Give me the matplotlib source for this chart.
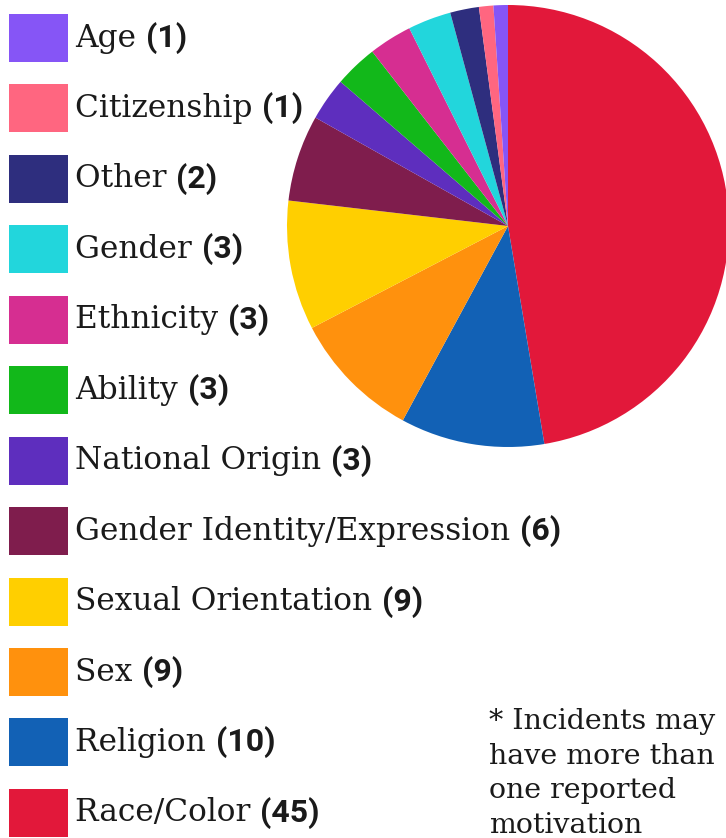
import matplotlib
matplotlib.use('Agg')
import matplotlib.pyplot as plt
from matplotlib.patches import Rectangle

# legend order (top to bottom)
labels = ['Age', 'Citizenship', 'Other', 'Gender', 'Ethnicity', 'Ability',
          'National Origin', 'Gender Identity/Expression', 'Sexual Orientation',
          'Sex', 'Religion', 'Race/Color']
counts = [1, 1, 2, 3, 3, 3, 3, 6, 9, 9, 10, 45]
colors = ['#8655f6', '#ff6680', '#2e2e7e', '#22d6dc', '#d62e91', '#12b81a',
          '#5e2ebe', '#7f1d4d', '#ffcf00', '#ff910d', '#1261b5', '#e2183a']
note = '* Incidents may\nhave more than\none reported\nmotivation'

W, H = 726, 838
fig = plt.figure(figsize=(W / 100, H / 100), dpi=100)
ax = fig.add_axes([0, 0, 1, 1])

# pie: Race/Color first, clockwise from the top
ax.pie(counts[::-1], colors=colors[::-1], startangle=90, counterclock=False,
       center=(508, H - 226), radius=221, frame=True,
       wedgeprops=dict(linewidth=0))
ax.set_xlim(0, W)
ax.set_ylim(0, H)
ax.set_aspect('equal')
ax.axis('off')

fig.canvas.draw()
r = fig.canvas.get_renderer()

lab_font = dict(family='DejaVu Serif', fontsize=22.5, color='#1a1a1a')
num_font = dict(family='Roboto', fontsize=23, fontweight='bold', color='#1a1a1a')

for i, (lab, n, c) in enumerate(zip(labels, counts, colors)):
    yc = H - (38 + i * 70.45)
    ax.add_patch(Rectangle((9, yc - 24), 59, 48, color=c, lw=0))
    t = ax.text(75, yc, lab + ' ', va='center', ha='left', **lab_font)
    bb = t.get_window_extent(renderer=r)
    ax.text(bb.x1, yc, f'({n})', va='center', ha='left', **num_font)

ax.text(489, H - 708, note, va='top', ha='left', linespacing=1.36,
        family='DejaVu Serif', fontsize=20.5, color='#1a1a1a',
        multialignment='left')

fig.savefig('out.png', dpi=100)
